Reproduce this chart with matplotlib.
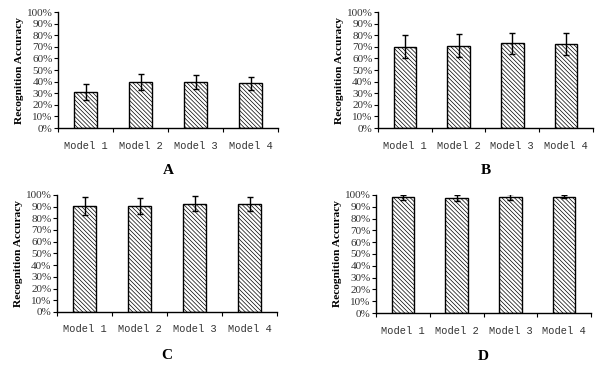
import numpy as np
import matplotlib.pyplot as plt
from matplotlib.ticker import PercentFormatter

models = ['Model 1', 'Model 2', 'Model 3', 'Model 4']
panel_names = ['A', 'B', 'C', 'D']

# mean accuracy (%) and error bar half-width (%) per panel
acc_a = [31, 40, 39.5, 38.5]
err_a = [7, 7, 6, 5.5]
acc_b = [70, 71, 73, 72.5]
err_b = [10, 10, 9, 9.5]
acc_c = [90.5, 90.5, 92.5, 92]
err_c = [7.5, 6.5, 6.5, 6]
acc_d = [98, 97, 98.5, 98.5]
err_d = [2, 2.5, 2.5, 1]

yticks = list(range(0, 101, 10))

plt.rcParams['hatch.linewidth'] = 0.5
fig = plt.figure(figsize=(6, 3.67), dpi=100)

# axes rectangles in figure fractions
rects = [
    [0.097, 0.651, 0.367, 0.316],
    [0.630, 0.651, 0.358, 0.316],
    [0.095, 0.150, 0.367, 0.319],
    [0.627, 0.147, 0.358, 0.322],
]
data = [(acc_a, err_a), (acc_b, err_b), (acc_c, err_c), (acc_d, err_d)]

for rect, (acc, err), name in zip(rects, data, panel_names):
    ax = fig.add_axes(rect)
    x = np.arange(len(models))
    ax.bar(x, acc, width=0.42, color='white', edgecolor='black', linewidth=1.0,
           hatch='\\' * 8, zorder=2)
    ax.errorbar(x, acc, yerr=err, fmt='none', ecolor='black', elinewidth=1.0,
                capsize=2.5, capthick=1.0, zorder=3)
    ax.set_xlim(-0.5, len(models) - 0.5)
    ax.set_ylim(0, 100)
    ax.set_yticks(yticks)
    ax.yaxis.set_major_formatter(PercentFormatter(decimals=0))
    for lab in ax.get_yticklabels():
        lab.set_fontfamily('Liberation Serif')
        lab.set_fontsize(8)
        lab.set_color('#333333')
    ax.tick_params(axis='y', direction='out', length=3, width=0.8, pad=1)
    # category boundaries as x ticks, names placed in between
    ax.set_xticks(np.arange(len(models) + 1) - 0.5)
    ax.set_xticklabels([])
    ax.tick_params(axis='x', direction='out', length=3, width=0.8)
    ax.set_xticks(x, minor=True)
    ax.set_xticklabels(models, minor=True, fontfamily='Liberation Mono', fontsize=7.5,
                       color='#333333')
    ax.tick_params(axis='x', which='minor', length=0, pad=9)
    ax.spines['top'].set_visible(False)
    ax.spines['right'].set_visible(False)
    ax.spines['left'].set_linewidth(1.0)
    ax.spines['bottom'].set_linewidth(1.0)
    ax.set_ylabel('Recognition Accuracy', fontfamily='Liberation Serif', fontweight='bold',
                  fontsize=8.2, labelpad=2)
    ax.text(0.5, -0.37, name, transform=ax.transAxes, ha='center', va='center',
            fontfamily='Liberation Serif', fontweight='bold', fontsize=11)

fig.savefig('out.png', dpi=100)
